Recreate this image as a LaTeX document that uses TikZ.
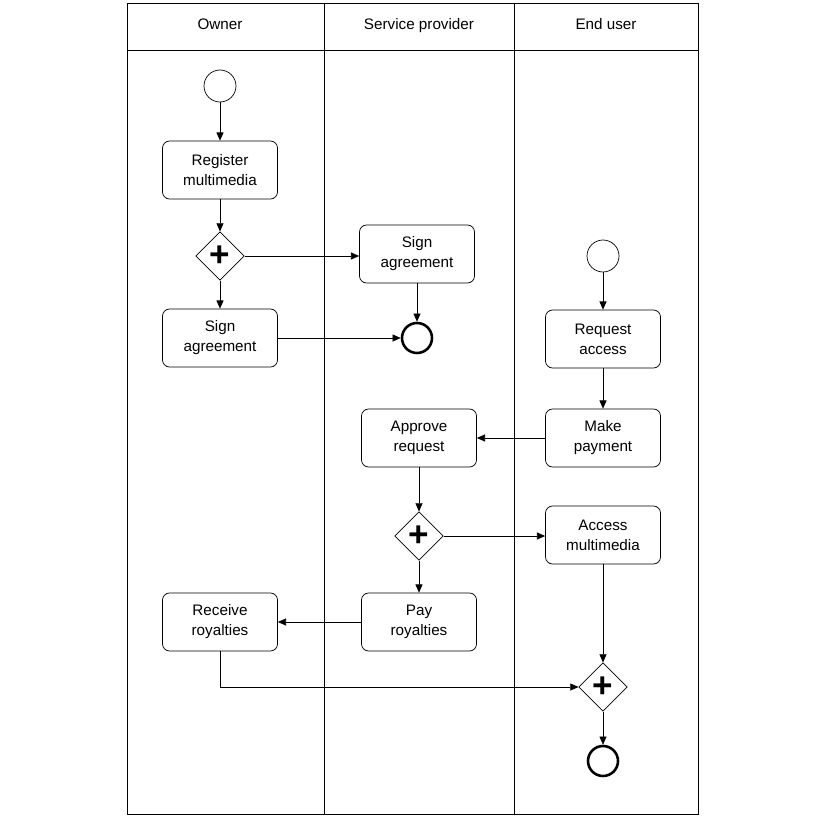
\documentclass[tikz,border=0pt]{standalone}
\usepackage{fontspec}
\setmainfont{Liberation Sans}
\usetikzlibrary{shapes.geometric,arrows.meta}
\tikzset{
  task/.style={draw, rounded corners=6pt, minimum width=3.45cm, minimum height=1.74cm, align=center, font=\fontsize{13}{17}\selectfont},
  start/.style={draw, circle, minimum size=0.96cm},
  finish/.style={draw, circle, line width=2.2pt, minimum size=0.9cm},
  gate/.style={draw, diamond, minimum size=1.45cm, inner sep=0pt, font=\fontsize{30}{30}\selectfont\bfseries},
  flow/.style={-{Triangle[length=7pt,width=6pt]}},
  lane/.style={font=\fontsize{13}{15}\selectfont, text height=9pt, text depth=3pt}
}
\begin{document}
\begin{tikzpicture}[x=0.03cm, y=-0.03cm, semithick]
  \useasboundingbox (0,0) rectangle (830,816);
  % pool and lanes
  \draw (127,3) rectangle (698,814);
  \draw (127,50) -- (698,50);
  \draw (324,3) -- (324,814);
  \draw (514,3) -- (514,814);
  \node[lane] (hOwner) at (220,26) {Owner};
  \node[lane] (hProvider) at (419,26) {Service provider};
  \node[lane] (hUser) at (606,26) {End user};
  % owner
  \node[start] (s1) at (220,86) {};
  \node[task] (register) at (220,170) {Register\\multimedia};
  \node[gate] (g1) at (220,256) {+};
  \node[task] (signO) at (220,338) {Sign\\agreement};
  \node[task] (receive) at (220,622) {Receive\\royalties};
  % service provider
  \node[task] (signP) at (417,254) {Sign\\agreement};
  \node[finish] (e1) at (417,338) {};
  \node[task] (approve) at (419,438) {Approve\\request};
  \node[gate] (g2) at (419,536) {+};
  \node[task] (pay) at (419,622) {Pay\\royalties};
  % end user
  \node[start] (s2) at (603,256) {};
  \node[task] (request) at (603,339) {Request\\access};
  \node[task] (payment) at (603,438) {Make\\payment};
  \node[task] (access) at (603,535) {Access\\multimedia};
  \node[gate] (g3) at (603,687) {+};
  \node[finish] (e2) at (603,761) {};
  % flows
  \draw[flow] (s1) -- (register);
  \draw[flow] (register) -- (g1);
  \draw[flow] (g1) -- (signP.west |- g1);
  \draw[flow] (g1) -- (signO);
  \draw[flow] (signP) -- (e1);
  \draw[flow] (signO) -- (e1);
  \draw[flow] (s2) -- (request);
  \draw[flow] (request) -- (payment);
  \draw[flow] (payment) -- (approve);
  \draw[flow] (approve) -- (g2);
  \draw[flow] (g2) -- (access.west |- g2);
  \draw[flow] (g2) -- (pay);
  \draw[flow] (pay) -- (receive);
  \draw[flow] (access) -- (g3);
  \draw[flow] (receive) |- (g3);
  \draw[flow] (g3) -- (e2);
\end{tikzpicture}
\end{document}
